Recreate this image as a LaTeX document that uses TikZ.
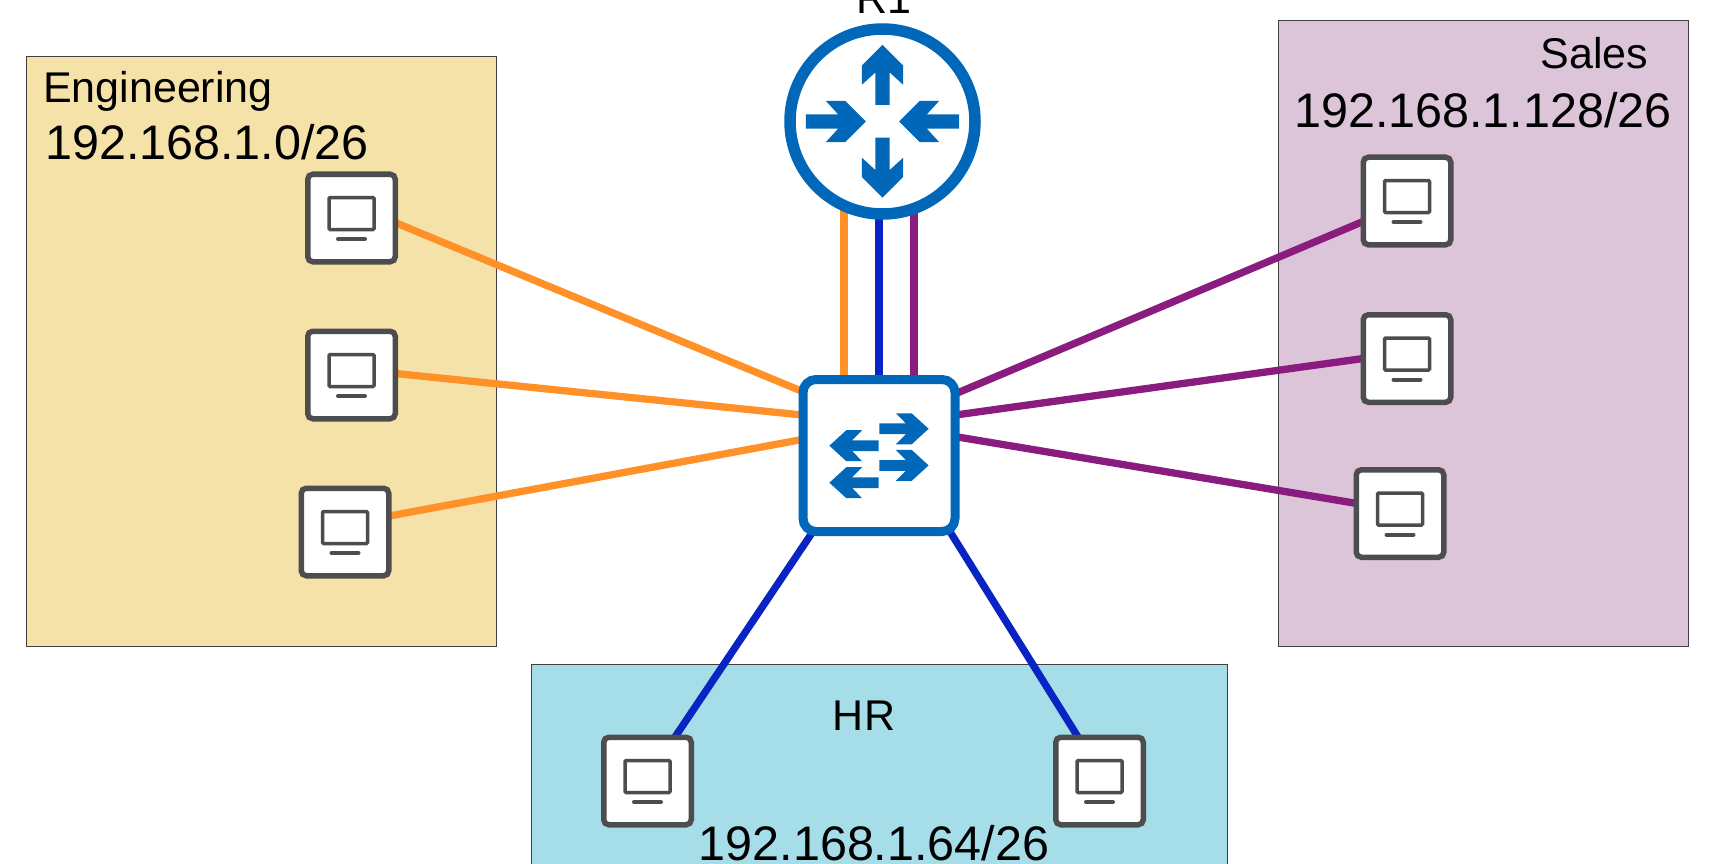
\documentclass[tikz,border=0pt]{standalone}
\usepackage{fontspec}
\setmainfont{Liberation Sans}
\usetikzlibrary{backgrounds}
\definecolor{netblue}{HTML}{0067B9}
\definecolor{pcgray}{HTML}{4D4D4F}
\definecolor{engfill}{HTML}{F4E2A9}
\definecolor{salesfill}{HTML}{DCC5D8}
\definecolor{hrfill}{HTML}{A5DEE8}
\definecolor{engline}{HTML}{FF9128}
\definecolor{hrline}{HTML}{0A24C4}
\definecolor{salesline}{HTML}{8A1C7F}
\tikzset{
  pc/.style={draw=pcgray, fill=white, line width=5.5pt, rounded corners=5pt, minimum size=87.5pt, inner sep=0pt, outer sep=0pt},
  zone/.style={draw=black!75, line width=0.8pt, inner sep=0pt, outer sep=0pt},
  link/.style={line width=7.3pt},
  nametext/.style={font=\fontsize{43}{45}\selectfont, inner sep=0pt},
  nettext/.style={font=\fontsize{48.5}{50}\selectfont, inner sep=0pt},
  flowarrow/.pic={
    \fill[netblue] (30,0) -- (9.3,20.7) -- (-10,20.7) -- (2.3,7.2) -- (-30,7.2) -- (-30,-7.2) -- (2.3,-7.2) -- (-10,-20.7) -- (9.3,-20.7) -- cycle;
  },
  pcicon/.pic={
    \draw[pcgray, line width=3.5pt, rounded corners=1pt] (-22.5,-20.5) rectangle (22.5,11.5);
    \draw[pcgray, line width=4pt, line cap=round] (-13.5,21) -- (13.5,21);
  }
}

\begin{document}
\begin{tikzpicture}[x=1pt, y=-1pt]
    \useasboundingbox (0,0) rectangle (1719,864);

    \node[circle, draw=netblue, fill=white, line width=11.5pt, minimum size=185pt, inner sep=0pt, outer sep=0pt] (r1) at (882.5,121.5) {};
    \node[draw=netblue, fill=white, line width=9pt, rounded corners=13pt, minimum size=152pt, inner sep=0pt, outer sep=0pt] (sw) at (879,455.5) {};

    \node[pc] (eng1) at (351.5,218) {};
    \node[pc] (eng2) at (351.5,375) {};
    \node[pc] (eng3) at (345,532) {};

    \node[pc] (sales1) at (1407,201) {};
    \node[pc] (sales2) at (1407,358.5) {};
    \node[pc] (sales3) at (1400,513.5) {};

    \node[pc] (hr1) at (647.5,781) {};
    \node[pc] (hr2) at (1099.5,781) {};

    \foreach \pcname in {eng1,eng2,eng3,sales1,sales2,sales3,hr1,hr2}
        \pic at (\pcname) {pcicon};

    % router arrows
    \pic[shift={(r1.center)}, shift={(0,-46.7)}, rotate=90] {flowarrow};
    \pic[shift={(r1.center)}, shift={(0,46.2)}, rotate=-90] {flowarrow};
    \pic[shift={(r1.center)}, shift={(-46.7,0)}] {flowarrow};
    \pic[shift={(r1.center)}, shift={(46.7,0)}, rotate=180] {flowarrow};

    % switch arrows
    \pic[shift={(sw.center)}, shift={(25,-26.7)}, xscale=0.82, yscale=0.75] {flowarrow};
    \pic[shift={(sw.center)}, shift={(25,9.9)}, xscale=0.82, yscale=0.75] {flowarrow};
    \pic[shift={(sw.center)}, shift={(-25,-9.8)}, xscale=-0.82, yscale=0.75] {flowarrow};
    \pic[shift={(sw.center)}, shift={(-25,27.2)}, xscale=-0.82, yscale=0.75] {flowarrow};

    \node[nametext, anchor=base] (r1name) at (883.5,13.5) {R1};
    \node[nametext, anchor=base west] (engname) at (43,103) {Engineering};
    \node[nettext, anchor=base west] (engnet) at (45,160) {192.168.1.0/26};
    \node[nametext, anchor=base] (salesname) at (1594.5,69) {Sales};
    \node[nettext, anchor=base west] (salesnet) at (1294,128) {192.168.1.128/26};
    \node[nametext, anchor=base] (hrname) at (864,730) {HR};
    \node[nettext, anchor=base] (hrnet) at (874,860) {192.168.1.64/26};

    \begin{scope}[on background layer]
        \node[zone, fill=engfill, minimum width=470pt, minimum height=590pt] (engzone) at (261,351) {};
        \node[zone, fill=salesfill, minimum width=410pt, minimum height=626pt] (saleszone) at (1483,333) {};
        \node[zone, fill=hrfill, minimum width=696pt, minimum height=240pt] (hrzone) at (879,784) {};

        \draw[link, engline] (eng1.-6) -- (sw.140);
        \draw[link, engline] (eng2.2) -- (sw.152);
        \draw[link, engline] (eng3.20) -- (sw.168);

        \draw[link, salesline] (sales1.205) -- (sw.39);
        \draw[link, salesline] (sales2.180) -- (sw.28);
        \draw[link, salesline] (sales3.167) -- (sw.14);

        \draw[link, hrline] (hr1.58) -- (sw.229);
        \draw[link, hrline] (hr2.116) -- (sw.313);

        \draw[link, engline] ([xshift=-35pt]sw.center) -- ([xshift=-38.5pt]r1.center);
        \draw[link, hrline] (sw.center) -- ([xshift=-3.5pt]r1.center);
        \draw[link, salesline] ([xshift=35pt]sw.center) -- ([xshift=31.5pt]r1.center);
    \end{scope}
\end{tikzpicture}
\end{document}
